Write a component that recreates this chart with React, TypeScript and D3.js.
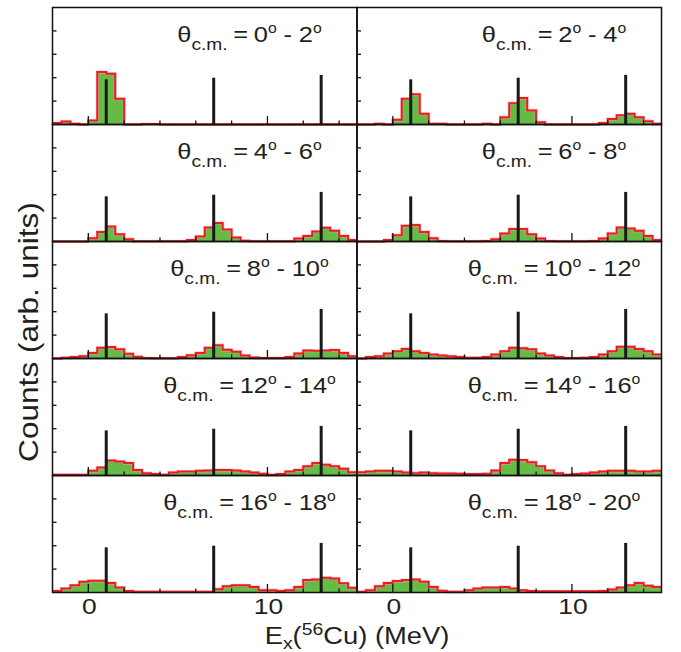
import React from 'react'
import * as d3 from 'd3'

// bins are 0.5 MeV wide, starting at -2 MeV (34 bins up to 15 MeV)
const binStarts = d3.range(-2, 15, 0.5)

const h00_02 = [0.06, 0.13, 0.03, 0, 0.17, 2.24, 2.17, 1.1, 0, 0, 0.02, 0.02, 0, 0, 0, 0, 0, 0, 0, 0, 0, 0, 0, 0, 0, 0, 0, 0, 0, 0, 0, 0, 0, 0]
const h02_04 = [0, 0, 0.03, 0, 0.2, 1.1, 1.29, 0.46, 0.03, 0.03, 0, 0, 0, 0, 0.03, 0, 0.31, 0.91, 1.13, 0.6, 0.1, 0, 0, 0, 0, 0, 0, 0.06, 0.24, 0.39, 0.46, 0.31, 0.14, 0.03]
const h04_06 = [0, 0, 0, 0, 0.14, 0.41, 0.64, 0.31, 0.1, 0.01, 0.01, 0.01, 0.01, 0.01, 0.01, 0.06, 0.21, 0.6, 0.79, 0.51, 0.17, 0.03, 0.01, 0.01, 0.01, 0.01, 0.01, 0.13, 0.24, 0.43, 0.59, 0.46, 0.24, 0.06]
const h06_08 = [0, 0, 0, 0.06, 0.27, 0.67, 0.7, 0.41, 0.14, 0.02, 0.01, 0.01, 0.01, 0.01, 0.02, 0.1, 0.34, 0.53, 0.53, 0.31, 0.13, 0.02, 0.01, 0.01, 0.01, 0.01, 0.02, 0.13, 0.34, 0.6, 0.56, 0.46, 0.24, 0.06]
const h08_10 = [0, 0.03, 0.06, 0.1, 0.24, 0.46, 0.49, 0.39, 0.2, 0.07, 0.02, 0.01, 0.01, 0.01, 0.06, 0.14, 0.24, 0.46, 0.57, 0.37, 0.29, 0.13, 0.04, 0.02, 0.02, 0.02, 0.06, 0.21, 0.34, 0.33, 0.34, 0.36, 0.24, 0.1]
const h10_12 = [0, 0.06, 0.1, 0.21, 0.31, 0.41, 0.31, 0.24, 0.17, 0.13, 0.1, 0.06, 0.03, 0.03, 0.06, 0.17, 0.31, 0.46, 0.44, 0.39, 0.21, 0.13, 0.06, 0.02, 0.02, 0.03, 0.06, 0.17, 0.31, 0.5, 0.5, 0.41, 0.31, 0.17]
const h12_14 = [0.03, 0.03, 0.03, 0.03, 0.2, 0.34, 0.64, 0.6, 0.53, 0.24, 0.1, 0.06, 0.03, 0.13, 0.17, 0.17, 0.2, 0.21, 0.24, 0.23, 0.21, 0.17, 0.13, 0.07, 0.03, 0.06, 0.17, 0.24, 0.39, 0.53, 0.46, 0.39, 0.29, 0.14]
const h14_16 = [0.14, 0.17, 0.2, 0.2, 0.17, 0.13, 0.1, 0.13, 0.1, 0.09, 0.09, 0.07, 0.06, 0.06, 0.07, 0.21, 0.53, 0.67, 0.66, 0.57, 0.39, 0.21, 0.1, 0.03, 0.06, 0.09, 0.13, 0.17, 0.2, 0.2, 0.2, 0.17, 0.17, 0.2]
const h16_18 = [0.06, 0.17, 0.31, 0.46, 0.5, 0.5, 0.41, 0.21, 0.06, 0.03, 0.03, 0.03, 0.03, 0.03, 0.03, 0.03, 0.03, 0.03, 0.14, 0.27, 0.31, 0.31, 0.24, 0.1, 0.1, 0.06, 0.1, 0.24, 0.53, 0.56, 0.63, 0.6, 0.39, 0.2]
const h18_20 = [0.03, 0.1, 0.27, 0.41, 0.49, 0.53, 0.56, 0.46, 0.24, 0.07, 0.03, 0.03, 0.1, 0.17, 0.21, 0.21, 0.24, 0.17, 0.1, 0.06, 0.05, 0.05, 0.05, 0.05, 0.05, 0.05, 0.05, 0.06, 0.13, 0.21, 0.31, 0.41, 0.29, 0.24]

const panelData = [h00_02, h02_04, h04_06, h06_08, h08_10, h10_12, h12_14, h14_16, h16_18, h18_20]
const angleFrom = [0, 2, 4, 6, 8, 10, 12, 14, 16, 18]
const angleTo = [2, 4, 6, 8, 10, 12, 14, 16, 18, 20]

// calculated levels (black sticks)
const lineEnergies = [1.0, 7.0, 13.0]
const lineHeights = [1.93, 2.0, 2.12]

const xTickLabels = [0, 10]

var W = 681
var H = 652
var left = 52.5
var top = 7.5
var panelW = 304.5
var panelH = 117
var green = '#66bb46'
var red = '#ec1c24'
var ink = '#231f20'
var font = 'Liberation Sans, Arial, Helvetica, sans-serif'

const x = d3.scaleLinear().domain([-2, 15]).range([0, panelW])
const y = d3.scaleLinear().domain([0, 5]).range([panelH, 0])

const Panel = ({values, from, to, px, py}) => {
  var pts = binStarts.map((e, i) => [e, values[i]])
  pts.push([15, values[values.length - 1]])

  var area = d3.area().curve(d3.curveStepAfter)
    .x(d => x(d[0])).y0(y(0)).y1(d => y(d[1]))
  var line = d3.line().curve(d3.curveStepAfter)
    .x(d => x(d[0])).y(d => y(d[1]))

  var minor = d3.range(2, 15, 2).filter(v => v !== 10)

  return (
    <g transform={`translate(${px},${py})`}>
      <path d={area(pts)} fill={green}/>
      <path d={line(pts)} fill="none" stroke="#f4a6a8" strokeWidth={3.2} opacity={0.6}/>
      <path d={line(pts)} fill="none" stroke={red} strokeWidth={2}/>
      {lineEnergies.map((e, i) =>
        <line key={i} x1={x(e)} x2={x(e)} y1={y(0)} y2={y(lineHeights[i])} stroke="#1a1a1a" strokeWidth={3}/>
      )}
      <rect x={0} y={0} width={panelW} height={panelH} fill="none" stroke="#111" strokeWidth={1.5}/>
      {[1, 2, 3, 4].map(v =>
        <line key={'y' + v} x1={0} x2={4} y1={y(v)} y2={y(v)} stroke="#111" strokeWidth={1.3}/>
      )}
      {minor.map(v =>
        <line key={'m' + v} x1={x(v)} x2={x(v)} y1={panelH} y2={panelH - 4} stroke="#111" strokeWidth={1.3}/>
      )}
      {xTickLabels.map(v =>
        <line key={'M' + v} x1={x(v)} x2={x(v)} y1={panelH} y2={panelH - 8.5} stroke="#111" strokeWidth={1.3}/>
      )}
      <text transform={`translate(197,34.5) scale(1.13,1)`} textAnchor="middle" fontFamily={font} fontSize={22.5} fill={ink}>
        <tspan>θ</tspan>
        <tspan fontSize={17} dy={7.5}>c.m.</tspan>
        <tspan dy={-7.5} dx={5}>=</tspan>
        <tspan dx={5}>{from}</tspan>
        <tspan fontSize={14} dy={-8.8}>o</tspan>
        <tspan dy={8.8} dx={6}>-</tspan>
        <tspan dx={6}>{to}</tspan>
        <tspan fontSize={14} dy={-8.8}>o</tspan>
      </text>
    </g>
  )
}

const App = () => {
  var panels = panelData.map((vals, i) => {
    var col = i % 2
    var row = Math.floor(i / 2)
    return <Panel key={i} values={vals} from={angleFrom[i]} to={angleTo[i]}
      px={left + col * panelW} py={top + row * panelH}/>
  })

  var bottom = top + 5 * panelH

  return (
    <svg width={W} height={H} style={{position: 'absolute', left: 0, top: 0, background: 'white'}}>
      <g>{ panels }</g>
      {[0, 1].map(col =>
        xTickLabels.map(v =>
          <text key={col + '-' + v} transform={`translate(${left + col * panelW + x(v) + 1},${bottom + 21}) scale(1.2,1)`}
            textAnchor="middle" fontFamily={font} fontSize={22} fill={ink}>{v}</text>
        )
      )}
      <text transform={`translate(${left + panelW},${bottom + 51}) scale(1.14,1)`} textAnchor="middle"
        fontFamily={font} fontSize={24} fill={ink}>
        <tspan>E</tspan>
        <tspan fontSize={17} dy={5}>x</tspan>
        <tspan dy={-5}>(</tspan>
        <tspan fontSize={17} dy={-9}>56</tspan>
        <tspan dy={9}>Cu) (MeV)</tspan>
      </text>
      <text transform="translate(38,332) rotate(-90) scale(1.17,1)" textAnchor="middle" fontFamily={font} fontSize={27}
        fill={ink}>Counts (arb. units)</text>
    </svg>
  )
}

export default App
